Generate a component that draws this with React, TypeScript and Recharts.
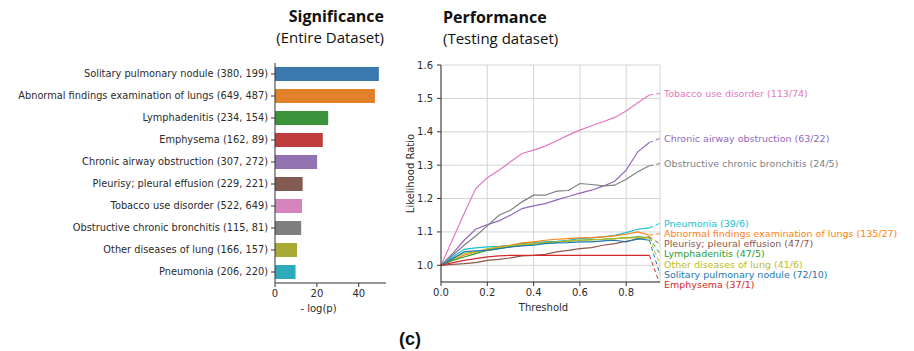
import { BarChart, Bar, Cell, XAxis, YAxis, LineChart, Line, CartesianGrid, Label } from 'recharts';

// left panel: significance of each condition
const conditions = [
  'Solitary pulmonary nodule (380, 199)',
  'Abnormal findings examination of lungs (649, 487)',
  'Lymphadenitis (234, 154)',
  'Emphysema (162, 89)',
  'Chronic airway obstruction (307, 272)',
  'Pleurisy; pleural effusion (229, 221)',
  'Tobacco use disorder (522, 649)',
  'Obstructive chronic bronchitis (115, 81)',
  'Other diseases of lung (166, 157)',
  'Pneumonia (206, 220)',
];
const negLogP = [49.6, 47.7, 25.4, 22.8, 20.1, 13.2, 12.9, 12.5, 10.5, 9.8];
const barColors = ['#3a78ad', '#e1812c', '#3a923a', '#c03d3e', '#9372b2', '#845b53', '#d684bd', '#7f7f7f', '#a9aa35', '#2eabb8'];
const sigTicks = [0, 20, 40];

// right panel: likelihood ratio vs threshold
const thresholds = [0, 0.05, 0.1, 0.15, 0.2, 0.25, 0.3, 0.35, 0.4, 0.45, 0.5, 0.55, 0.6, 0.65, 0.7, 0.75, 0.8, 0.85, 0.9];
const tobacco = [1.0, 1.077, 1.155, 1.23, 1.262, 1.285, 1.31, 1.335, 1.345, 1.357, 1.373, 1.39, 1.405, 1.418, 1.43, 1.443, 1.462, 1.487, 1.51];
const chronicAirway = [1.0, 1.035, 1.075, 1.108, 1.122, 1.133, 1.15, 1.17, 1.178, 1.185, 1.196, 1.206, 1.216, 1.225, 1.237, 1.252, 1.285, 1.34, 1.368];
const obstructive = [1.0, 1.03, 1.06, 1.088, 1.118, 1.15, 1.165, 1.19, 1.21, 1.21, 1.222, 1.224, 1.245, 1.242, 1.238, 1.24, 1.258, 1.28, 1.298];
const pneumonia = [1.0, 1.025, 1.048, 1.052, 1.055, 1.057, 1.06, 1.065, 1.068, 1.07, 1.072, 1.075, 1.08, 1.082, 1.085, 1.09, 1.098, 1.108, 1.112];
const abnormal = [1.0, 1.015, 1.03, 1.04, 1.048, 1.055, 1.06, 1.067, 1.07, 1.075, 1.078, 1.08, 1.082, 1.083, 1.085, 1.088, 1.093, 1.1, 1.09];
const pleurisy = [1.0, 1.003, 1.005, 1.008, 1.015, 1.018, 1.022, 1.028, 1.03, 1.033, 1.04, 1.045, 1.05, 1.053, 1.06, 1.065, 1.072, 1.078, 1.085];
const lymphadenitis = [1.0, 1.015, 1.025, 1.035, 1.045, 1.05, 1.055, 1.06, 1.063, 1.068, 1.07, 1.072, 1.075, 1.077, 1.078, 1.08, 1.082, 1.085, 1.083];
const otherLung = [1.0, 1.02, 1.035, 1.04, 1.05, 1.053, 1.058, 1.062, 1.065, 1.067, 1.07, 1.073, 1.075, 1.076, 1.078, 1.08, 1.082, 1.083, 1.082];
const solitary = [1.0, 1.02, 1.04, 1.043, 1.045, 1.05, 1.055, 1.058, 1.06, 1.065, 1.067, 1.068, 1.07, 1.07, 1.073, 1.075, 1.07, 1.08, 1.075];
const emphysema = [1.0, 1.008, 1.015, 1.02, 1.025, 1.028, 1.03, 1.03, 1.03, 1.03, 1.03, 1.03, 1.03, 1.03, 1.03, 1.03, 1.03, 1.03, 1.03];

const seriesLabels = [
  'Tobacco use disorder (113/74)',
  'Chronic airway obstruction (63/22)',
  'Obstructive chronic bronchitis (24/5)',
  'Pneumonia (39/6)',
  'Abnormal findings examination of lungs (135/27)',
  'Pleurisy; pleural effusion (47/7)',
  'Lymphadenitis (47/5)',
  'Other diseases of lung (41/6)',
  'Solitary pulmonary nodule (72/10)',
  'Emphysema (37/1)',
];
const seriesValues = [tobacco, chronicAirway, obstructive, pneumonia, abnormal, pleurisy, lymphadenitis, otherLung, solitary, emphysema];
const seriesColors = ['#e377c2', '#9467bd', '#7f7f7f', '#17becf', '#ff7f0e', '#8c564b', '#2ca02c', '#bcbd22', '#1f77b4', '#d62728'];
// where each annotation sits on the likelihood-ratio scale
const labelLR = [1.515, 1.38, 1.305, 1.126, 1.095, 1.064, 1.034, 1.003, 0.973, 0.943];

const xTicks = [0, 0.2, 0.4, 0.6, 0.8];
const yTicks = [1.0, 1.1, 1.2, 1.3, 1.4, 1.5, 1.6];
const xMax = 0.946;

const font = 'DejaVu Sans';
const ink = '#2b2b2b';
const tickStyle = { fontSize: 10, fontFamily: font, fill: ink };

const barData = conditions.map((name, i) => ({ name, value: negLogP[i] }));

const CategoryTick = (p: any) => (
  <text x={p.x} y={p.y} dy="0.35em" textAnchor="end" fontSize={9.8} fontFamily={font} fill={ink}>
    {p.payload.value}
  </text>
);

const App = () => {
  return (
    <div style={{ position: 'absolute', left: 0, top: 0, width: 914, height: 351, background: '#fff' }}>
      <div style={{ position: 'absolute', left: 200, width: 184, top: 6, textAlign: 'right', fontFamily: 'Open Sans', fontWeight: 700, fontSize: 16, lineHeight: '20px', color: '#111' }}>
        Significance
      </div>
      <div style={{ position: 'absolute', left: 200, width: 184, top: 27, textAlign: 'right', fontFamily: 'Open Sans', fontSize: 15, lineHeight: '20px', color: '#111' }}>
        (Entire Dataset)
      </div>
      <div style={{ position: 'absolute', left: 443, top: 7, fontFamily: 'Open Sans', fontWeight: 700, fontSize: 16, lineHeight: '20px', color: '#111' }}>
        Performance
      </div>
      <div style={{ position: 'absolute', left: 443, top: 28, fontFamily: 'Open Sans', fontSize: 15, lineHeight: '20px', color: '#111' }}>
        (Testing dataset)
      </div>
      <div style={{ position: 'absolute', left: 399, top: 328, fontFamily: 'Liberation Sans', fontWeight: 700, fontSize: 18, lineHeight: '22px', color: '#111' }}>
        (c)
      </div>

      <div style={{ position: 'absolute', left: 0, top: 0 }}>
        <BarChart width={400} height={351} data={barData} layout="vertical" margin={{ top: 63, right: 14, bottom: 38, left: 0 }} barCategoryGap={4}>
          <XAxis type="number" domain={[0, 53]} ticks={sigTicks} height={30} tickSize={4} tickMargin={3} stroke="#333" tick={tickStyle}>
            <Label
              content={({ viewBox }: any) => (
                <text x={viewBox.x + viewBox.width / 2 - 12} y={viewBox.y + 25} dy="0.35em" textAnchor="middle" fontSize={10} fontFamily={font} fill={ink}>
                  - log(p)
                </text>
              )}
            />
          </XAxis>
          <XAxis xAxisId="top" orientation="top" type="number" domain={[0, 53]} height={0} tick={false} tickLine={false} stroke="#333" />
          <YAxis type="category" dataKey="name" width={275} tickSize={4} tickMargin={3} stroke="#333" tick={<CategoryTick />} interval={0} />
          <YAxis yAxisId="right" orientation="right" type="category" dataKey="name" width={0} tick={false} tickLine={false} stroke="#333" />
          <Bar dataKey="value" barSize={14} isAnimationActive={false}>
            {barData.map((d, i) => (
              <Cell key={d.name} fill={barColors[i]} />
            ))}
          </Bar>
        </BarChart>
      </div>

      <div style={{ position: 'absolute', left: 380, top: 0 }}>
        <LineChart width={534} height={351} margin={{ top: 65, right: 254, bottom: 39, left: 0 }}>
          <CartesianGrid stroke="#d4d4d4" strokeWidth={1} />
          <XAxis type="number" dataKey="t" domain={[0, xMax]} ticks={xTicks} tickFormatter={(v: number) => v.toFixed(1)} height={30} tickSize={4} tickMargin={3} stroke="#333" tick={tickStyle}>
            <Label
              content={({ viewBox }: any) => (
                <text x={viewBox.x + viewBox.width / 2 - 7} y={viewBox.y + 25} dy="0.35em" textAnchor="middle" fontSize={10} fontFamily={font} fill={ink}>
                  Threshold
                </text>
              )}
            />
          </XAxis>
          <XAxis xAxisId="top" orientation="top" type="number" dataKey="t" domain={[0, xMax]} height={0} tick={false} tickLine={false} stroke="#333" />
          <YAxis type="number" domain={[0.95, 1.6]} allowDataOverflow ticks={yTicks} tickFormatter={(v: number) => v.toFixed(1)} width={61} tickSize={4} tickMargin={4} stroke="#333" tick={tickStyle}>
            <Label value="Likelihood Ratio" angle={-90} position="center" style={{ fontSize: 10, fontFamily: font, fill: ink }} />
          </YAxis>
          <YAxis yAxisId="right" orientation="right" type="number" domain={[0.95, 1.6]} width={0} tick={false} tickLine={false} stroke="#333" />
          {seriesValues.map((vals, s) => (
            <Line
              key={`line-${s}`}
              data={thresholds.map((t, i) => ({ t, v: vals[i] }))}
              dataKey="v"
              stroke={seriesColors[s]}
              strokeWidth={1.2}
              dot={false}
              activeDot={false}
              isAnimationActive={false}
            />
          ))}
          {seriesValues.map((vals, s) => (
            <Line
              key={`conn-${s}`}
              data={[
                { t: thresholds[thresholds.length - 1], v: vals[vals.length - 1] },
                { t: xMax, v: labelLR[s] },
              ]}
              dataKey="v"
              stroke={seriesColors[s]}
              strokeWidth={1}
              strokeDasharray="4 3"
              dot={false}
              activeDot={false}
              isAnimationActive={false}
              label={(p: any) =>
                p.index === 1 ? (
                  <text key={`lab-${s}`} x={p.x + 4} y={p.y} dy="0.35em" fontSize={9.5} fontFamily={font} fill={seriesColors[s]}>
                    {seriesLabels[s]}
                  </text>
                ) : null
              }
            />
          ))}
        </LineChart>
      </div>
    </div>
  );
};

export default App;
